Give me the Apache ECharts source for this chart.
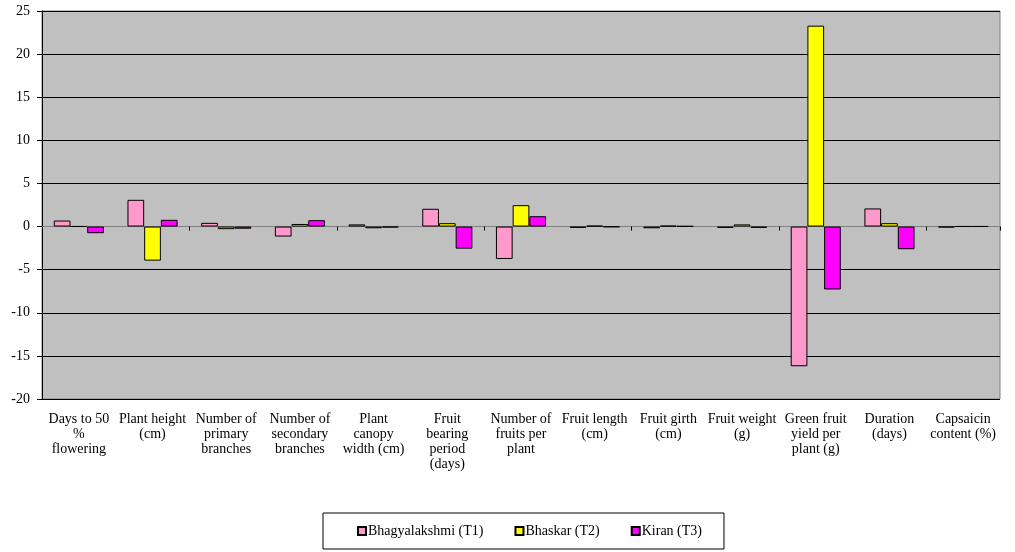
<!DOCTYPE html>
<html><head><meta charset="utf-8">
<script src="https://cdn.jsdelivr.net/npm/echarts@6/dist/echarts.min.js"></script>
<style>html,body{margin:0;padding:0;background:#fff}#c{width:1015px;height:552px}</style>
</head><body><div id="c"></div>
<script>
const categories = [
  "Days to 50\n%\nflowering",
  "Plant height\n(cm)",
  "Number of\nprimary\nbranches",
  "Number of\nsecondary\nbranches",
  "Plant\ncanopy\nwidth (cm)",
  "Fruit\nbearing\nperiod\n(days)",
  "Number of\nfruits per\nplant",
  "Fruit length\n(cm)",
  "Fruit girth\n(cm)",
  "Fruit weight\n(g)",
  "Green fruit\nyield per\nplant (g)",
  "Duration\n(days)",
  "Capsaicin\ncontent (%)"
];
const seriesNames = ["Bhagyalakshmi (T1)", "Bhaskar (T2)", "Kiran (T3)"];
const t1 = [0.7, 3.1, 0.43, -1.16, 0.25, 2.06, -3.76, -0.15, -0.2, -0.15, -16.2, 2.1, -0.1];
const t2 = [0.02, -3.95, -0.3, 0.3, -0.2, 0.39, 2.48, 0.1, 0.1, 0.25, 23.3, 0.39, 0.02];
const t3 = [-0.77, 0.78, -0.25, 0.74, -0.1, -2.56, 1.2, -0.05, 0.05, -0.15, -7.3, -2.63, 0.02];
const yTicks = [-20, -15, -10, -5, 0, 5, 10, 15, 20, 25];
const colors = ["#ff99cc", "#ffff00", "#ff00ff"];

const chart = echarts.init(document.getElementById('c'), null, {renderer: 'canvas'});
const font = "'Liberation Serif', 'Times New Roman', serif";
const values = [t1, t2, t3];
chart.setOption({
  animation: false,
  textStyle: {fontFamily: font},
  grid: {left: 42, right: 15, top: 11, bottom: 153, show: true, backgroundColor: '#c0c0c0', borderColor: '#808080', borderWidth: 1},
  legend: {
    data: seriesNames,
    left: 323, top: 513,
    orient: 'horizontal',
    padding: [11, 22, 11, 34],
    itemGap: 31,
    itemWidth: 8, itemHeight: 8,
    icon: 'rect',
    borderColor: '#000', borderWidth: 1,
    textStyle: {fontFamily: font, fontSize: 14, color: '#000', padding: [0, 0, 0, -3]}
  },
  xAxis: [
    {type: 'category', data: categories, position: 'bottom',
     axisLine: {onZero: true, lineStyle: {color: '#808080', width: 1}},
     axisTick: {show: true, length: 4, lineStyle: {color: '#000'}},
     axisLabel: {show: false}, splitLine: {show: false}},
    {type: 'category', data: categories, position: 'bottom',
     axisLine: {show: false, onZero: false}, axisTick: {show: false},
     axisLabel: {show: true, interval: 0, color: '#000', fontSize: 14, fontFamily: font, lineHeight: 15, margin: 13},
     splitLine: {show: false}}
  ],
  yAxis: {type: 'value', min: yTicks[0], max: yTicks[yTicks.length - 1], interval: 5,
    axisLine: {show: true, lineStyle: {color: '#000'}},
    axisTick: {show: true, length: 5, lineStyle: {color: '#000'}},
    axisLabel: {color: '#000', fontSize: 14, fontFamily: font, margin: 12},
    splitLine: {show: true, lineStyle: {color: '#000', width: 1}}
  },
  series: seriesNames.map((n, i) => ({
    name: n, type: 'bar', xAxisIndex: 0, data: values[i],
    barGap: '0%', barCategoryGap: '32%',
    itemStyle: {color: colors[i], borderColor: '#000', borderWidth: 1}
  }))
});
</script></body></html>
